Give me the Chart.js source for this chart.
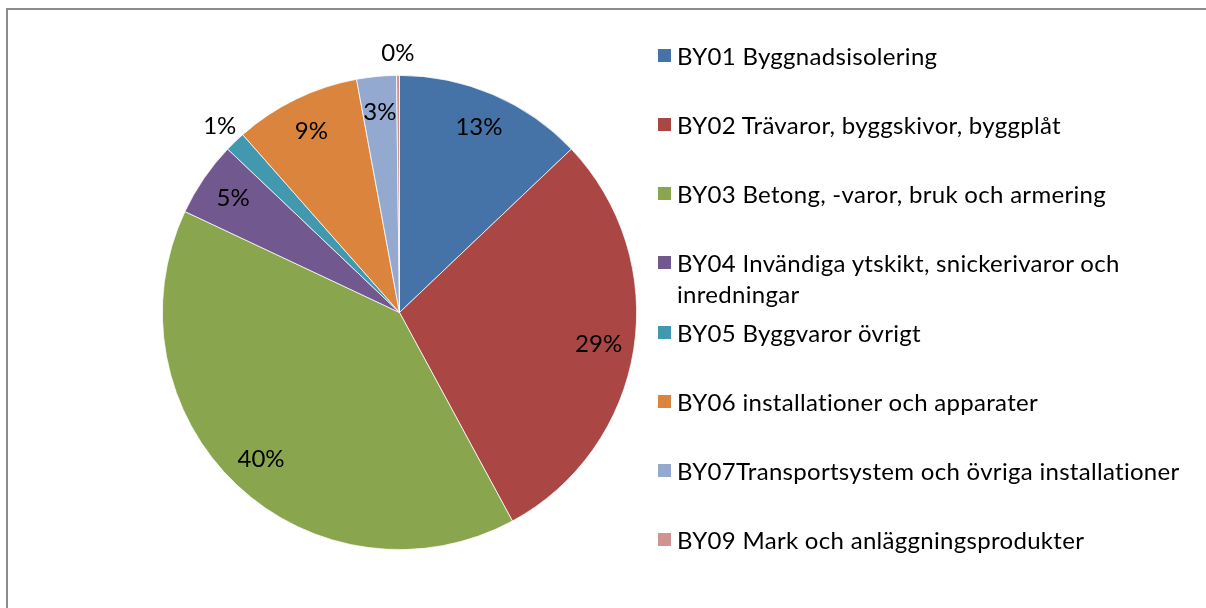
<!DOCTYPE html>
<html>
<head>
<meta charset="utf-8">
<script src="https://cdn.jsdelivr.net/npm/chart.js@4.4.1/dist/chart.umd.min.js"></script>
<style>
  html, body { margin: 0; padding: 0; background: #fff; }
  #wrap { position: relative; width: 1206px; height: 608px; overflow: hidden; }
  #frame {
    position: absolute; left: 6px; top: 8px; width: 1220px; height: 620px;
    border: 2px solid #8c8c8c;
  }
  #pieChart { position: absolute; left: 0; top: 0; }
  #legendContainer { position: absolute; left: 0; top: 0; }
  .legend-item {
    position: absolute; left: 658px; width: 545px;
    font-family: Lato, "Open Sans", sans-serif; font-size: 24px; letter-spacing: 0.3px;
    line-height: 31px; color: #000;
  }
  .legend-item span.box {
    position: absolute; left: 0; top: 9px; width: 13px; height: 13px;
  }
  .legend-item div.txt { margin-left: 19px; width: 515px; }
</style>
</head>
<body>
<div id="wrap">
  <div id="frame"></div>
  <canvas id="pieChart" width="1206" height="608"></canvas>
  <div id="legendContainer"></div>
</div>
<script>
const labels = [
  'BY01 Byggnadsisolering',
  'BY02 Trävaror, byggskivor, byggplåt',
  'BY03 Betong, -varor, bruk och armering',
  'BY04 Invändiga ytskikt, snickerivaror och inredningar',
  'BY05 Byggvaror övrigt',
  'BY06 installationer och apparater',
  'BY07Transportsystem och övriga installationer',
  'BY09 Mark och anläggningsprodukter'
];
const shares = [12.9, 29.2, 39.9, 5.1, 1.4, 8.6, 2.7, 0.2];
const colors = ['#4572a7', '#aa4643', '#89a54e', '#71588f', '#4198af', '#db843d', '#93a9cf', '#d19392'];

const legendTops = [55, 124, 193, 262, 332, 401, 470, 539];

const percentLabels = {
  id: 'percentLabels',
  afterDatasetsDraw(chart) {
    const ctx = chart.ctx;
    const meta = chart.getDatasetMeta(0);
    const total = shares.reduce((a, b) => a + b, 0);
    ctx.save();
    ctx.font = '24px Lato, "Open Sans", sans-serif';
    ctx.fillStyle = '#000';
    ctx.textAlign = 'center';
    ctx.textBaseline = 'middle';
    meta.data.forEach((arc, i) => {
      const p = arc.getProps(['x', 'y', 'startAngle', 'endAngle', 'outerRadius'], true);
      const mid = (p.startAngle + p.endAngle) / 2;
      const sweep = p.endAngle - p.startAngle;
      let dist = p.outerRadius * 0.85;
      if (sweep < 0.1) {
        dist = p.outerRadius + 22;
      }
      const x = p.x + Math.cos(mid) * dist;
      const y = p.y + Math.sin(mid) * dist;
      ctx.fillText(Math.round(shares[i] / total * 100) + '%', x, y);
    });
    ctx.restore();
  }
};

function renderLegend() {
  const legendContainer = document.getElementById('legendContainer');
  labels.forEach((label, i) => {
    const item = document.createElement('div');
    item.className = 'legend-item';
    item.style.top = (legendTops[i] - 15.5) + 'px';
    item.innerHTML = `<span class="box" style="background-color: ${colors[i]};"></span><div class="txt">${label}</div>`;
    legendContainer.appendChild(item);
  });
}

const ctx = document.getElementById('pieChart').getContext('2d');
new Chart(ctx, {
  type: 'pie',
  data: {
    labels: labels,
    datasets: [{
      data: shares,
      backgroundColor: colors,
      borderColor: '#ffffff',
      borderWidth: 0.75
    }]
  },
  options: {
    responsive: false,
    maintainAspectRatio: false,
    animation: false,
    layout: { padding: { left: 162, right: 569, top: 75, bottom: 58 } },
    plugins: {
      legend: { display: false },
      tooltip: { enabled: false }
    }
  },
  plugins: [percentLabels]
});

renderLegend();
</script>
</body>
</html>
